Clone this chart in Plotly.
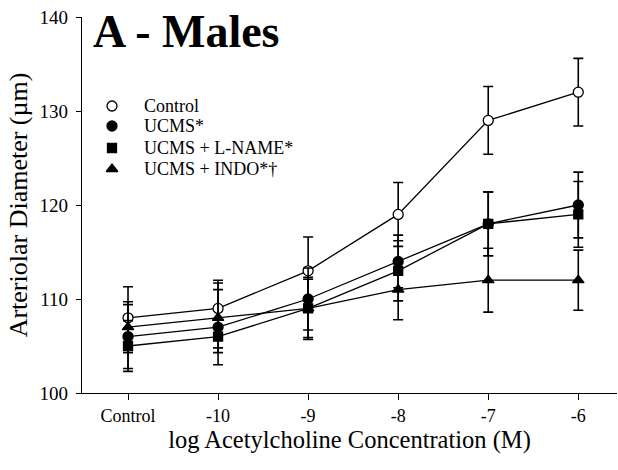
import plotly.graph_objects as go

categories = ["Control", "-10", "-9", "-8", "-7", "-6"]

control = [108, 109, 113, 119, 129, 132]
control_err = [3.3, 3.0, 3.6, 3.4, 3.6, 3.6]

ucms = [106, 107, 110, 114, 118, 120]
ucms_err = [3.4, 4.0, 3.3, 2.8, 3.4, 3.5]

lname = [105, 106, 109, 113, 118, 119]
lname_err = [2.7, 1.2, 3.3, 3.2, 3.4, 3.5]

indo = [107, 108, 109, 111, 112, 112]
indo_err = [2.7, 3.7, 3.1, 3.2, 3.4, 3.2]

series_names = ["Control", "UCMS*", "UCMS + L-NAME*", "UCMS + INDO*†"]
series_values = [control, ucms, lname, indo]
series_errors = [control_err, ucms_err, lname_err, indo_err]
series_symbols = ["circle", "circle", "square", "triangle-up"]
series_fills = ["white", "black", "black", "black"]

FONT = "Liberation Serif"
xs = list(range(len(categories)))

fig = go.Figure()
for name, vals, errs, sym, fill in zip(series_names, series_values, series_errors,
                                       series_symbols, series_fills):
    msize = 10 if sym != "square" else 9
    fig.add_trace(go.Scatter(
        x=xs, y=vals, name=name, mode="lines+markers", showlegend=False,
        line=dict(color="black", width=1.3),
        marker=dict(symbol=sym, size=msize,
                    color=fill, line=dict(color="black", width=1.3)),
        error_y=dict(type="data", array=errs, visible=True, color="black",
                     thickness=1.6, width=5),
    ))

# Manual legend on an invisible overlay axis measured in plot-area pixels
leg_x = 112
leg_text_x = 142
leg_rows = [106, 126, 148, 169]
for name, sym, fill, ry in zip(series_names, series_symbols, series_fills, leg_rows):
    msize = 10 if sym != "square" else 9
    fig.add_trace(go.Scatter(
        x=[leg_x], y=[ry], xaxis="x2", yaxis="y2", mode="markers",
        showlegend=False, hoverinfo="skip",
        marker=dict(symbol=sym, size=msize, color=fill,
                    line=dict(color="black", width=1.3)),
    ))

annotations = [dict(
    text="<b>A - Males</b>", xref="paper", yref="paper",
    x=0.016, y=1.035, xanchor="left", yanchor="top", showarrow=False,
    font=dict(size=46, family=FONT, color="black"),
)]
for name, ry in zip(series_names, leg_rows):
    annotations.append(dict(
        text=name, xref="x2", yref="y2", x=leg_text_x, y=ry,
        xanchor="left", yanchor="middle", showarrow=False,
        font=dict(size=18, family=FONT, color="black"),
    ))

fig.update_layout(
    width=618, height=470,
    margin=dict(l=82, r=1, t=17, b=77),
    plot_bgcolor="white", paper_bgcolor="white",
    font=dict(family=FONT, size=17, color="black"),
    showlegend=False,
    xaxis=dict(
        tickmode="array", tickvals=xs, ticktext=categories,
        range=[-0.511, 5.43], showgrid=False, zeroline=False,
        showline=True, linecolor="black", linewidth=1.3,
        ticks="outside", ticklen=6, tickwidth=1.3, tickcolor="black",
        tickfont=dict(size=18, family=FONT),
        title=dict(text="log Acetylcholine Concentration (M)",
                   font=dict(size=24.5, family=FONT), standoff=4),
    ),
    yaxis=dict(
        range=[100, 140], tickvals=[100, 110, 120, 130, 140],
        showgrid=False, zeroline=False,
        showline=True, linecolor="black", linewidth=1.3,
        ticks="outside", ticklen=5, tickwidth=1.3, tickcolor="black",
        tickfont=dict(size=19, family=FONT), ticklabelstandoff=4,
        title=dict(text="Arteriolar Diameter (µm)",
                   font=dict(size=26, family=FONT), standoff=4),
    ),
    xaxis2=dict(overlaying="x", range=[82, 617], visible=False, anchor="y2"),
    yaxis2=dict(overlaying="y", range=[393, 17], visible=False, anchor="x2"),
    annotations=annotations,
)

fig.write_html("out.html")
